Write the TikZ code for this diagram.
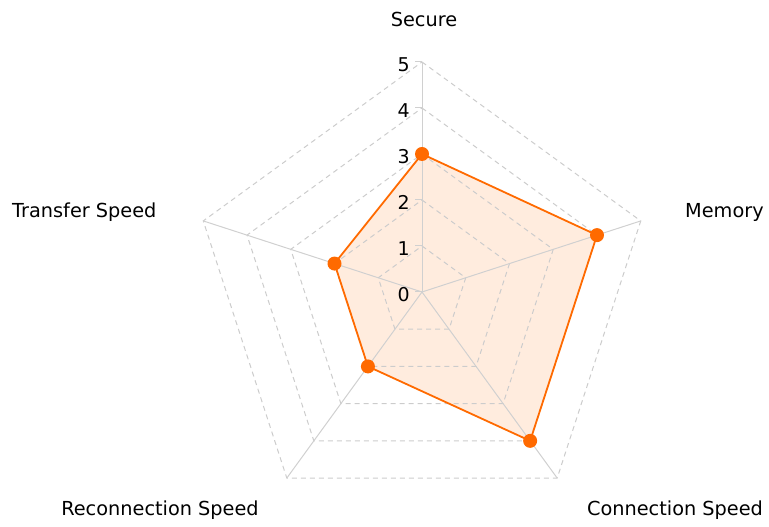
\documentclass[tikz,border=0pt]{standalone}
\usepackage{fontspec}
\setmainfont{DejaVu Sans}
\usetikzlibrary{calc}
\definecolor{gridgray}{HTML}{CCCCCC}
\definecolor{axisgray}{HTML}{D0D0D0}
\definecolor{dataorange}{HTML}{FF6A00}
\tikzset{
  gridline/.style={gridgray, dashed, dash pattern=on 5pt off 4pt, line width=1pt},
  axisline/.style={axisgray, line width=1pt},
  datafillstyle/.style={fill=dataorange, fill opacity=0.13},
  dataline/.style={draw=dataorange, line width=1.8pt, line join=round},
  datadot/.style={circle, fill=dataorange, inner sep=0pt, minimum size=14pt},
  catlabel/.style={font=\fontsize{19.3}{23}\selectfont, text=black, inner sep=0pt},
  ticklabel/.style={font=\fontsize{19}{23}\selectfont, text=black, inner sep=0pt, anchor=base east},
}
\begin{document}
\begin{tikzpicture}[x=1pt,y=1pt]
\useasboundingbox (0,0) rectangle (769,527);
\coordinate (C) at (422,235);
% axis endpoints and grid vertices
\foreach \k in {0,...,4}{
  \foreach \r in {1,...,5}{
    \coordinate (g\k-\r) at ($(C)+({90-72*\k}:{46*\r})$);
  }
}
% data
\coordinate (d0) at ($(C)+(90:138)$);
\coordinate (d1) at ($(C)+(18:184)$);
\coordinate (d2) at ($(C)+(-54:184)$);
\coordinate (d3) at ($(C)+(-126:92)$);
\coordinate (d4) at ($(C)+(162:92)$);
\fill[datafillstyle] (d0) -- (d1) -- (d2) -- (d3) -- (d4) -- cycle;
% dashed grid pentagons
\foreach \r in {1,...,5}{
  \draw[gridline] (g0-\r) -- (g1-\r) -- (g2-\r) -- (g3-\r) -- (g4-\r) -- cycle;
}
% axes
\foreach \k in {0,...,4}{
  \draw[axisline] (C) -- (g\k-5);
}
% ticks on the Secure axis
\foreach \r in {1,...,5}{
  \draw[axisline] (g0-\r) -- ++(-7,0);
}
\draw[axisline] (C) -- ++(-7,0);
% tick labels
\node[ticklabel] (t0) at ($(C)+(-12,-10)$) {0};
\foreach \r in {1,...,5}{
  \node[ticklabel] (t\r) at ($(g0-\r)+(-12,-10)$) {\r};
}
\draw[dataline] (d0) -- (d1) -- (d2) -- (d3) -- (d4) -- cycle;
\foreach \k in {0,...,4}{
  \node[datadot] (p\k) at (d\k) {};
}
% category labels
\node[catlabel, anchor=base] (lsecure) at (424,500) {Secure};
\node[catlabel, anchor=base west] (lmemory) at (685,309) {Memory};
\node[catlabel, anchor=base] (lconn) at (675,11) {Connection Speed};
\node[catlabel, anchor=base] (lreconn) at (160,11) {Reconnection Speed};
\node[catlabel, anchor=base west] (ltransfer) at (12,309) {Transfer Speed};
\end{tikzpicture}
\end{document}
